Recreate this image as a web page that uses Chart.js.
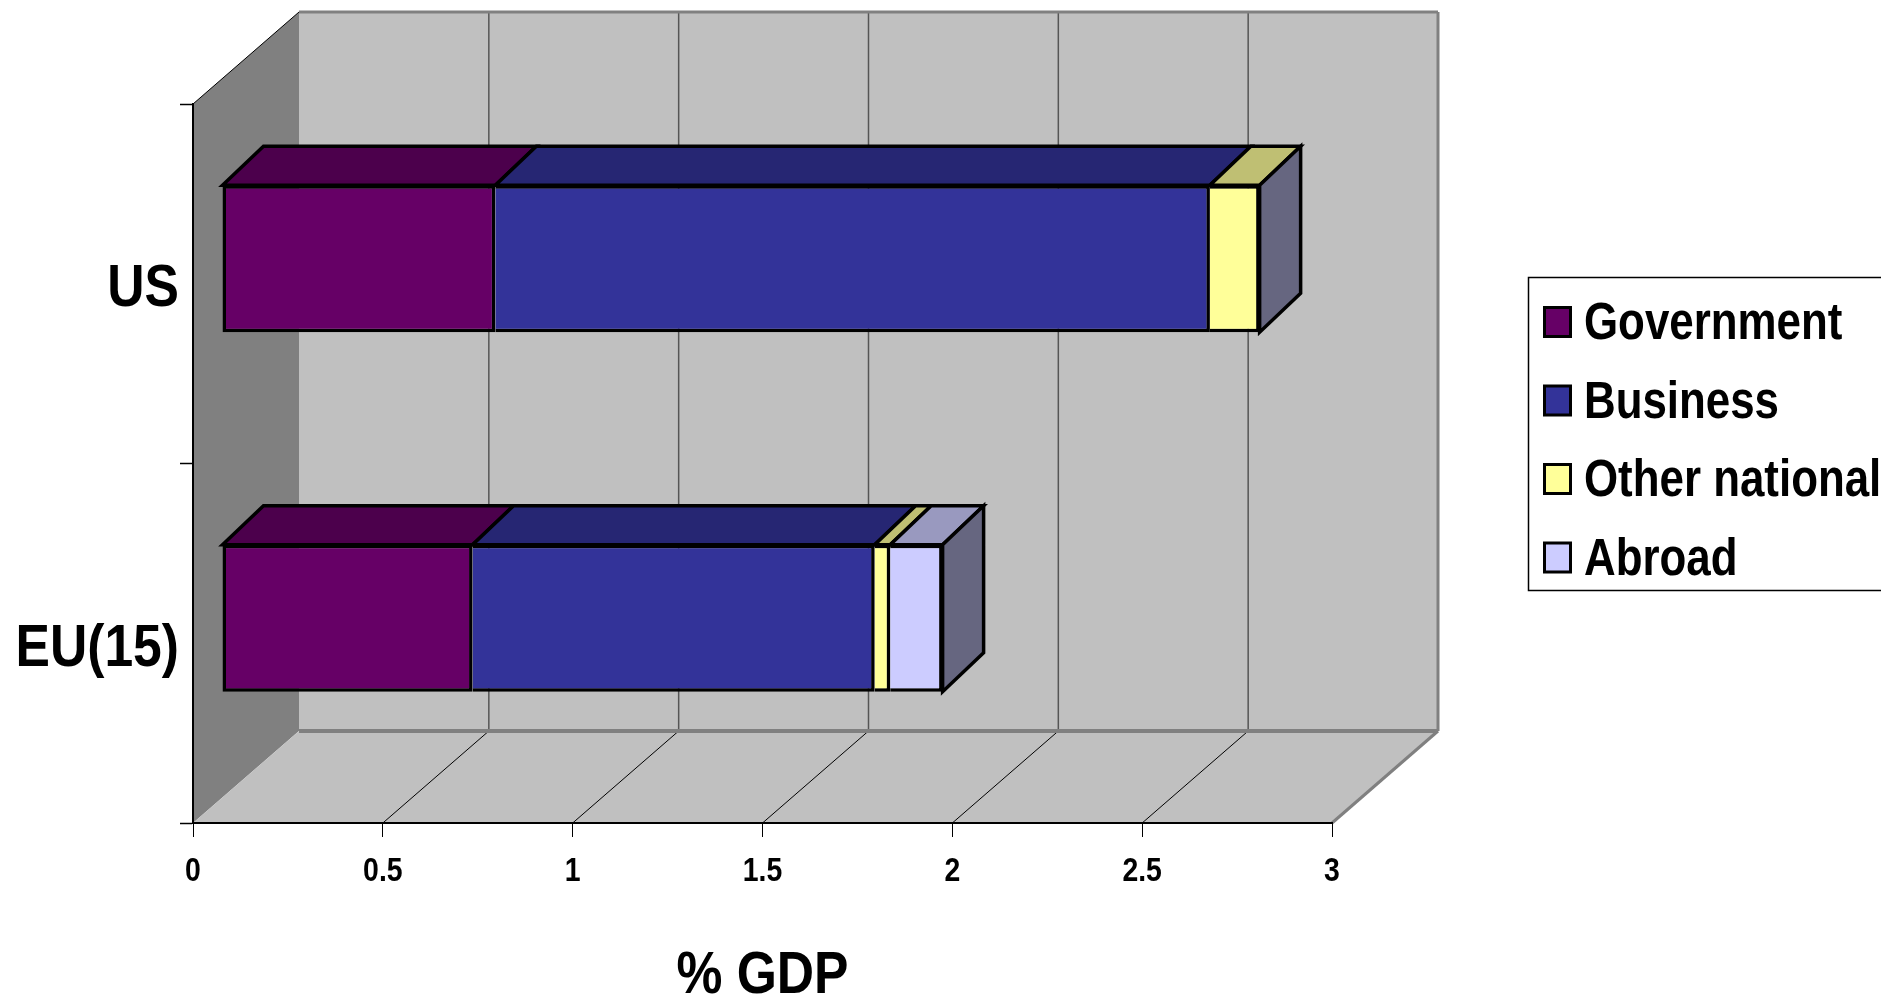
<!DOCTYPE html>
<html>
<head>
<meta charset="utf-8">
<title>% GDP</title>
<script src="https://cdn.jsdelivr.net/npm/chart.js@4/dist/chart.umd.min.js"></script>
<style>
  body { margin: 0; background: #fff; }
  canvas { display: block; }
</style>
</head>
<body>
<canvas id="chart" width="1881" height="998"></canvas>
<script>
// data
var categories = ['US', 'EU(15)'];
var government = [0.72, 0.66];
var business   = [1.882, 1.059];
var otherNat   = [0.131, 0.041];
var abroad     = [null, 0.138];
var seriesNames = ['Government', 'Business', 'Other national', 'Abroad'];
var axisTitle = '% GDP';

// colours: front face, top face
var frontColors = ['#660066', '#333399', '#ffff99', '#ccccff'];
var topColors   = ['#4c004c', '#262673', '#bfbf73', '#9999bf'];
var sideColor = '#666680';

var FONT = '"Liberation Sans", sans-serif';
var SQUEEZE = 0.86;   // no narrow font here, so squeeze the bold one
// 3d look, in px
var wallDx = 106, wallDy = 92;
var faceDx = 29, faceDy = 25;
var barDx = 41, barDy = 39;

function poly(ctx, pts, fill, stroke, lw) {
  ctx.beginPath();
  ctx.moveTo(pts[0][0], pts[0][1]);
  for (var i = 1; i < pts.length; i++) ctx.lineTo(pts[i][0], pts[i][1]);
  ctx.closePath();
  if (fill) { ctx.fillStyle = fill; ctx.fill(); }
  if (stroke) { ctx.strokeStyle = stroke; ctx.lineWidth = lw; ctx.lineJoin = 'miter'; ctx.stroke(); }
}

function line(ctx, x1, y1, x2, y2, color, lw) {
  ctx.beginPath();
  ctx.moveTo(x1, y1);
  ctx.lineTo(x2, y2);
  ctx.strokeStyle = color;
  ctx.lineWidth = lw;
  ctx.stroke();
}

// every label on the canvas goes through here, ticks and title too
var narrowTextPlugin = {
  id: 'narrowText',
  beforeInit: function (chart) {
    var ctx = chart.ctx;
    var fill = ctx.fillText.bind(ctx);
    ctx.fillText = function (text, x, y) {
      var size = parseFloat(/(\d+(\.\d+)?)px/.exec(ctx.font)[1]);
      ctx.save();
      ctx.translate(x, ctx.textBaseline === 'middle' ? y + size * 0.1 : y);
      ctx.scale(SQUEEZE, 1);
      fill(text, 0, 0);
      ctx.restore();
    };
  }
};

// back wall, side wall, floor and their grid
var wallsPlugin = {
  id: 'walls',
  beforeDraw: function (chart) {
    var ctx = chart.ctx, a = chart.chartArea, xs = chart.scales.x;
    var l = a.left, r = a.right, t = a.top, b = a.bottom;
    ctx.save();
    poly(ctx, [[l + wallDx, t - wallDy], [r + wallDx, t - wallDy], [r + wallDx, b - wallDy], [l + wallDx, b - wallDy]], '#c0c0c0');
    poly(ctx, [[l, t], [l + wallDx, t - wallDy], [l + wallDx, b - wallDy], [l, b]], '#808080');
    poly(ctx, [[l, b], [l + wallDx, b - wallDy], [r + wallDx, b - wallDy], [r, b]], '#c0c0c0');

    xs.ticks.forEach(function (tk) {
      var x = xs.getPixelForValue(tk.value);
      if (tk.value > 0 && tk.value < xs.max) {
        line(ctx, x + wallDx, t - wallDy, x + wallDx, b - wallDy, '#555555', 1.5);
        line(ctx, x, b, x + wallDx, b - wallDy, '#000000', 1);
      }
    });

    line(ctx, l + wallDx, t - wallDy, r + wallDx, t - wallDy, '#808080', 3);
    line(ctx, r + wallDx, t - wallDy, r + wallDx, b - wallDy, '#808080', 3);
    line(ctx, l + wallDx, b - wallDy, r + wallDx, b - wallDy, '#808080', 4);
    line(ctx, r, b, r + wallDx, b - wallDy, '#808080', 3);
    line(ctx, l, t, l + wallDx, t - wallDy, '#000000', 1);
    ctx.restore();
  }
};

// bars sit in front of the wall, so shift them and add top + end faces
var depthPlugin = {
  id: 'depth',
  beforeDatasetsDraw: function (chart) {
    var ctx = chart.ctx;
    ctx.save();
    ctx.translate(faceDx, -faceDy);
    categories.forEach(function (c, idx) {
      var last = null;
      chart.data.datasets.forEach(function (ds, d) {
        var el = chart.getDatasetMeta(d).data[idx];
        if (ds.data[idx] === null) return;
        var top = el.y - el.height / 2;
        poly(ctx, [[el.base, top], [el.base + barDx, top - barDy], [el.x + barDx, top - barDy], [el.x, top]], topColors[d], '#000', 3.5);
        last = el;
      });
      var topY = last.y - last.height / 2, botY = last.y + last.height / 2;
      poly(ctx, [[last.x, topY], [last.x + barDx, topY - barDy], [last.x + barDx, botY - barDy], [last.x, botY]], sideColor, '#000', 3.5);
    });
  },
  afterDatasetsDraw: function (chart) {
    chart.ctx.restore();
  }
};

// legend box runs off the right edge like in the original
var legendPlugin = {
  id: 'sideLegend',
  afterDraw: function (chart) {
    var ctx = chart.ctx;
    ctx.save();
    ctx.fillStyle = '#fff';
    ctx.strokeStyle = '#000';
    ctx.lineWidth = 1.5;
    ctx.beginPath();
    ctx.rect(1528.5, 277.5, 400, 313);
    ctx.fill();
    ctx.stroke();
    ctx.font = 'bold 51px ' + FONT;
    ctx.textBaseline = 'middle';
    seriesNames.forEach(function (name, i) {
      var y = 322 + i * 78.5;
      ctx.fillStyle = frontColors[i];
      ctx.fillRect(1544.5, y - 14.5, 26, 29);
      ctx.strokeStyle = '#000';
      ctx.lineWidth = 3;
      ctx.strokeRect(1544.5, y - 14.5, 26, 29);
      ctx.fillStyle = '#000';
      ctx.fillText(name, 1584, y - 2);
    });
    ctx.restore();
  }
};

var seriesValues = [government, business, otherNat, abroad];
var datasets = seriesValues.map(function (vals, i) {
  return {
    label: seriesNames[i],
    data: vals,
    backgroundColor: frontColors[i],
    borderColor: '#000000',
    borderWidth: 3.5,
    borderSkipped: i === 0 ? false : 'left',
    barPercentage: 0.4085,
    categoryPercentage: 1,
    clip: false
  };
});

new Chart(document.getElementById('chart').getContext('2d'), {
  type: 'bar',
  data: { labels: categories, datasets: datasets },
  plugins: [narrowTextPlugin, wallsPlugin, depthPlugin, legendPlugin],
  options: {
    indexAxis: 'y',
    responsive: false,
    animation: false,
    layout: { padding: { top: 104, right: 549, left: 0, bottom: 0 } },
    plugins: { legend: { display: false }, tooltip: { enabled: false } },
    scales: {
      x: {
        stacked: true,
        min: 0,
        max: 3,
        afterFit: function (s) { s.height = 175; },
        border: { color: '#000', width: 2 },
        grid: { drawOnChartArea: false, tickLength: 14, tickColor: '#000', tickWidth: 1 },
        ticks: {
          stepSize: 0.5,
          color: '#000',
          padding: 12,
          maxRotation: 0,
          autoSkip: false,
          callback: function (v) { return String(v); },
          font: { family: FONT, size: 33, weight: 'bold' }
        },
        title: {
          display: true,
          text: axisTitle,
          color: '#000',
          padding: { top: 0, bottom: -8 },
          font: { family: FONT, size: 60, weight: 'bold' }
        }
      },
      y: {
        stacked: true,
        afterFit: function (s) { s.width = 193; },
        border: { color: '#000', width: 2 },
        grid: { drawOnChartArea: false, tickLength: 13, tickColor: '#000', tickWidth: 1.5 },
        ticks: {
          color: '#000',
          padding: 1,
          font: { family: FONT, size: 60, weight: 'bold' }
        }
      }
    }
  }
});
</script>
</body>
</html>
